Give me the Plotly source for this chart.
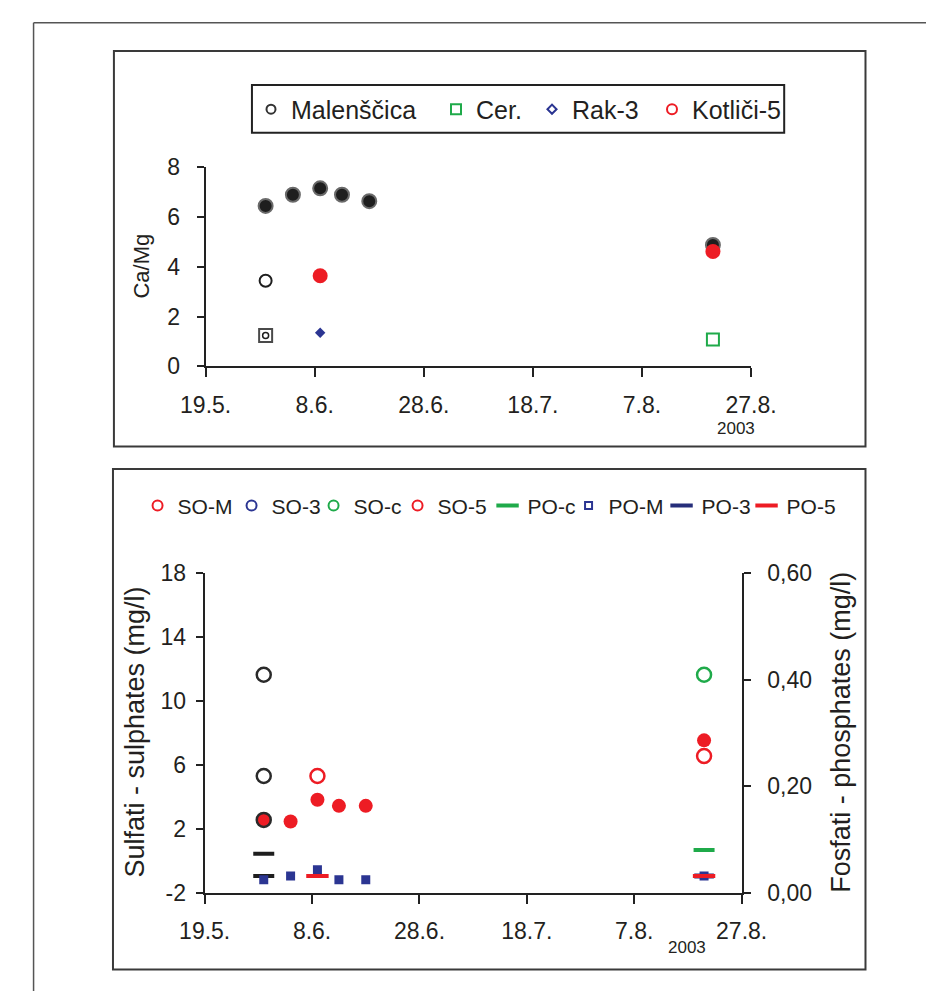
import plotly.graph_objects as go

# ---------------- data ----------------
tick_dates = ["2003-05-19", "2003-06-08", "2003-06-28", "2003-07-18", "2003-08-07", "2003-08-27"]
tick_labels = ["19.5.", "8.6.", "28.6.", "18.7.", "7.8.", "27.8."]

# Top panel: Ca/Mg
mal_f_dates = ["2003-05-30", "2003-06-04", "2003-06-09", "2003-06-13", "2003-06-18", "2003-08-20"]
mal_f_vals = [6.45, 6.9, 7.16, 6.9, 6.64, 4.88]
mal_o_dates = ["2003-05-30"]
mal_o_vals = [3.44]
sq_dates = ["2003-05-30"]
sq_vals = [1.24]
cer_dates = ["2003-08-20"]
cer_vals = [1.08]
rak_dates = ["2003-06-09"]
rak_vals = [1.35]
kot_dates = ["2003-06-09", "2003-08-20"]
kot_vals = [3.64, 4.62]
top_yticks = [0, 2, 4, 6, 8]

# Bottom panel: sulphates (left axis, mg/l)
so_blk_dates = ["2003-05-30", "2003-05-30", "2003-05-30"]
so_blk_vals = [11.64, 5.3, 2.55]
so_red_f_dates = ["2003-05-30", "2003-06-04", "2003-06-09", "2003-06-13", "2003-06-18", "2003-08-20"]
so_red_f_vals = [2.55, 2.45, 3.81, 3.43, 3.43, 7.53]
so_red_o_dates = ["2003-06-09", "2003-08-20"]
so_red_o_vals = [5.3, 6.55]
so_c_dates = ["2003-08-20"]
so_c_vals = [11.64]
so_ticks = [-2, 2, 6, 10, 14, 18]
so_tick_labels = ["-2", "2", "6", "10", "14", "18"]

# Bottom panel: phosphates (right axis, mg/l)
po_blk_dates = ["2003-05-30", "2003-05-30"]
po_blk_vals = [0.073, 0.031]
po_m_dates = ["2003-05-30", "2003-06-04", "2003-06-09", "2003-06-13", "2003-06-18", "2003-08-20"]
po_m_vals = [0.024, 0.031, 0.043, 0.024, 0.024, 0.031]
po_c_dates = ["2003-08-20"]
po_c_vals = [0.080]
po_3_dates = ["2003-08-20"]
po_3_vals = [0.031]
po_5_dates = ["2003-06-09", "2003-08-20"]
po_5_vals = [0.031, 0.031]
po_ticks = [0, 0.2, 0.4, 0.6]
po_tick_labels = ["0,00", "0,20", "0,40", "0,60"]

top_legend = ["Malenščica", "Cer.", "Rak-3", "Kotliči-5"]
bot_legend = ["SO-M", "SO-3", "SO-c", "SO-5", "PO-c", "PO-M", "PO-3", "PO-5"]

# ---------------- style ----------------
W, H = 952, 1004
FONT = "Liberation Sans, Arial, sans-serif"
TXT = "#231f20"
BLACK = "#1e1e1e"
RED = "#ed1c24"
GREEN = "#1faa4a"
BLUE = "#2b3592"
NAVY = "#262e7a"


def fx(p):
    return p / W


def fy(p):
    return 1 - p / H


fig = go.Figure()

# ---- top panel data ----
fig.add_trace(go.Scatter(x=mal_f_dates, y=mal_f_vals, mode="markers", showlegend=False,
                         marker=dict(symbol="circle", size=14, color=BLACK, line=dict(color="#6a6a6a", width=2)),
                         xaxis="x", yaxis="y"))
fig.add_trace(go.Scatter(x=mal_o_dates, y=mal_o_vals, mode="markers", showlegend=False,
                         marker=dict(symbol="circle-open", size=12, color=BLACK, line=dict(width=2)),
                         xaxis="x", yaxis="y"))
fig.add_trace(go.Scatter(x=sq_dates, y=sq_vals, mode="markers", showlegend=False,
                         marker=dict(symbol="square-open", size=13, color="#4a4a4a", line=dict(width=2)),
                         xaxis="x", yaxis="y"))
fig.add_trace(go.Scatter(x=sq_dates, y=sq_vals, mode="markers", showlegend=False,
                         marker=dict(symbol="circle-open", size=6, color=BLACK, line=dict(width=1.5)),
                         xaxis="x", yaxis="y"))
fig.add_trace(go.Scatter(x=cer_dates, y=cer_vals, mode="markers", showlegend=False,
                         marker=dict(symbol="square-open", size=12, color=GREEN, line=dict(width=2)),
                         xaxis="x", yaxis="y"))
fig.add_trace(go.Scatter(x=rak_dates, y=rak_vals, mode="markers", showlegend=False,
                         marker=dict(symbol="diamond", size=8, color=BLUE, line=dict(width=0)),
                         xaxis="x", yaxis="y"))
fig.add_trace(go.Scatter(x=kot_dates, y=kot_vals, mode="markers", showlegend=False,
                         marker=dict(symbol="circle", size=15, color=RED, line=dict(width=0)),
                         xaxis="x", yaxis="y"))

# ---- top legend entries ----
top_styles = [
    dict(symbol="circle-open", size=9, color="#333333", line=dict(width=2)),
    dict(symbol="square-open", size=10, color=GREEN, line=dict(width=2)),
    dict(symbol="diamond-open", size=7, color=BLUE, line=dict(width=2)),
    dict(symbol="circle-open", size=10, color=RED, line=dict(width=2)),
]
top_lw = [140, 51, 75, None]
for name, st, lw in zip(top_legend, top_styles, top_lw):
    kw = dict(legendwidth=lw) if lw else {}
    fig.add_trace(go.Scatter(x=[None], y=[None], mode="markers", name=name, marker=st,
                             legend="legend", xaxis="x", yaxis="y", **kw))

# ---- bottom panel data ----
fig.add_trace(go.Scatter(x=so_red_f_dates, y=so_red_f_vals, mode="markers", showlegend=False,
                         marker=dict(symbol="circle", size=14, color=RED, line=dict(width=0)),
                         xaxis="x2", yaxis="y2"))
fig.add_trace(go.Scatter(x=so_blk_dates, y=so_blk_vals, mode="markers", showlegend=False,
                         marker=dict(symbol="circle-open", size=14, color="#2a2a2a", line=dict(width=2.5)),
                         xaxis="x2", yaxis="y2"))
fig.add_trace(go.Scatter(x=so_red_o_dates, y=so_red_o_vals, mode="markers", showlegend=False,
                         marker=dict(symbol="circle-open", size=14, color=RED, line=dict(width=2.5)),
                         xaxis="x2", yaxis="y2"))
fig.add_trace(go.Scatter(x=so_c_dates, y=so_c_vals, mode="markers", showlegend=False,
                         marker=dict(symbol="circle-open", size=14, color=GREEN, line=dict(width=2.5)),
                         xaxis="x2", yaxis="y2"))
fig.add_trace(go.Scatter(x=po_blk_dates, y=po_blk_vals, mode="markers", showlegend=False,
                         marker=dict(symbol="line-ew", size=15, color=BLACK, line=dict(color=BLACK, width=4)),
                         xaxis="x2", yaxis="y3"))
fig.add_trace(go.Scatter(x=po_c_dates, y=po_c_vals, mode="markers", showlegend=False,
                         marker=dict(symbol="line-ew", size=15, color=GREEN, line=dict(color=GREEN, width=4)),
                         xaxis="x2", yaxis="y3"))
fig.add_trace(go.Scatter(x=po_3_dates, y=po_3_vals, mode="markers", showlegend=False,
                         marker=dict(symbol="line-ew", size=14, color=NAVY, line=dict(color=NAVY, width=5)),
                         xaxis="x2", yaxis="y3"))
fig.add_trace(go.Scatter(x=po_m_dates, y=po_m_vals, mode="markers", showlegend=False,
                         marker=dict(symbol="square", size=9, color=BLUE, line=dict(width=0)),
                         xaxis="x2", yaxis="y3"))
fig.add_trace(go.Scatter(x=po_5_dates, y=po_5_vals, mode="markers", showlegend=False,
                         marker=dict(symbol="line-ew", size=16, color=RED, line=dict(color=RED, width=4)),
                         xaxis="x2", yaxis="y3"))

# ---- bottom legend entries ----
bot_styles = [
    dict(symbol="circle-open", size=10, color=RED, line=dict(width=2)),
    dict(symbol="circle-open", size=10, color=BLUE, line=dict(width=2)),
    dict(symbol="circle-open", size=10, color=GREEN, line=dict(width=2)),
    dict(symbol="circle-open", size=10, color=RED, line=dict(width=2)),
    dict(symbol="line-ew", size=16, color=GREEN, line=dict(color=GREEN, width=4)),
    dict(symbol="square-open", size=7, color=BLUE, line=dict(width=2)),
    dict(symbol="line-ew", size=16, color=NAVY, line=dict(color=NAVY, width=4)),
    dict(symbol="line-ew", size=16, color=RED, line=dict(color=RED, width=4)),
]
bot_lw = [49, 37, 39, 45, 36, 48, 40, None]
for name, st, lw in zip(bot_legend, bot_styles, bot_lw):
    kw = dict(legendwidth=lw) if lw else {}
    fig.add_trace(go.Scatter(x=[None], y=[None], mode="markers", name=name, marker=st,
                             legend="legend2", xaxis="x2", yaxis="y2", **kw))

axis_common = dict(showline=True, linecolor="#222222", linewidth=2, showgrid=False, zeroline=False,
                   ticks="outside", tickcolor="#222222", tickwidth=2,
                   tickfont=dict(family=FONT, size=23, color=TXT))

ann_font = lambda s: dict(family=FONT, size=s, color=TXT)

fig.update_layout(
    width=W, height=H, margin=dict(l=0, r=0, t=0, b=0),
    paper_bgcolor="white", plot_bgcolor="rgba(0,0,0,0)",
    font=dict(family=FONT, color=TXT),
    xaxis=dict(axis_common, domain=[fx(190), fx(767)], anchor="y", type="date",
               range=["2003-05-19", "2003-08-27"], tickvals=tick_dates, ticktext=tick_labels,
               ticklen=9, ticklabelstandoff=8),
    yaxis=dict(axis_common, domain=[fy(362.7), fy(158.5)], anchor="x", range=[0, 8],
               tickvals=top_yticks, ticklen=7, ticklabelstandoff=12),
    xaxis2=dict(axis_common, domain=[fx(189), fx(757)], anchor="y2", type="date",
                range=["2003-05-19", "2003-08-27"], tickvals=tick_dates, ticktext=tick_labels,
                ticklen=9, ticklabelstandoff=8),
    yaxis2=dict(axis_common, domain=[fy(903), fy(575)], anchor="x2", range=[-2, 18],
                tickvals=so_ticks, ticktext=so_tick_labels, ticklen=7, ticklabelstandoff=5),
    yaxis3=dict(axis_common, overlaying="y2", side="right", anchor="x2", range=[0, 0.6],
                tickvals=po_ticks, ticktext=po_tick_labels, ticklen=7, ticklabelstandoff=12),
    legend=dict(orientation="h", x=fx(238), xanchor="left", y=fy(99), yanchor="middle",
                bgcolor="rgba(0,0,0,0)", borderwidth=0, font=dict(family=FONT, size=25, color=TXT),
                itemclick=False, itemdoubleclick=False),
    legend2=dict(orientation="h", x=fx(118), xanchor="left", y=fy(506), yanchor="middle",
                 bgcolor="rgba(0,0,0,0)", borderwidth=0, font=dict(family=FONT, size=21, color=TXT),
                 itemclick=False, itemdoubleclick=False),
    shapes=[
        dict(type="line", xref="paper", yref="paper", x0=fx(8), x1=fx(8), y0=fy(10), y1=fy(1004),
             line=dict(color="#555555", width=1.5)),
        dict(type="line", xref="paper", yref="paper", x0=fx(8), x1=fx(952), y0=fy(10), y1=fy(10),
             line=dict(color="#555555", width=1.5)),
        dict(type="rect", xref="paper", yref="paper", x0=fx(93), x1=fx(888), y0=fy(445), y1=fy(39),
             line=dict(color="#3a3a3a", width=2)),
        dict(type="rect", xref="paper", yref="paper", x0=fx(92), x1=fx(888), y0=fy(982), y1=fy(468),
             line=dict(color="#3a3a3a", width=2)),
        dict(type="rect", xref="paper", yref="paper", x0=fx(239), x1=fx(802), y0=fy(123), y1=fy(74),
             line=dict(color="#222222", width=2)),
    ],
    annotations=[
        dict(text="Ca/Mg", xref="paper", yref="paper", x=fx(122), y=fy(260), textangle=-90,
             xanchor="center", yanchor="middle", showarrow=False, font=ann_font(22)),
        dict(text="2003", xref="paper", yref="paper", x=fx(751), y=fy(427),
             xanchor="center", yanchor="middle", showarrow=False, font=ann_font(17)),
        dict(text="2003", xref="paper", yref="paper", x=fx(699), y=fy(959),
             xanchor="center", yanchor="middle", showarrow=False, font=ann_font(17)),
        dict(text="Sulfati - sulphates (mg/l)", xref="paper", yref="paper", x=fx(115), y=fy(738),
             textangle=-90, xanchor="center", yanchor="middle", showarrow=False, font=ann_font(27)),
        dict(text="Fosfati - phosphates (mg/l)", xref="paper", yref="paper", x=fx(862), y=fy(738),
             textangle=-90, xanchor="center", yanchor="middle", showarrow=False, font=ann_font(27)),
    ],
)

fig.write_html("out.html")
